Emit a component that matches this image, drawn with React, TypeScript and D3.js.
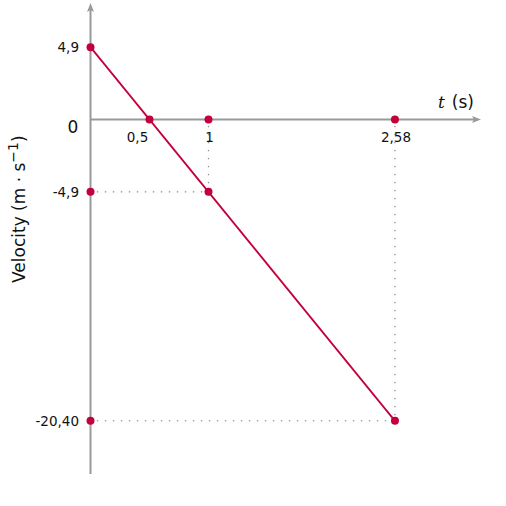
import React from "react";
import * as d3 from "d3";

const lineT = [0, 2.58];
const lineV = [4.9, -20.4];
const pointsT = [0, 0.5, 1, 1, 2.58, 2.58, 0, 0];
const pointsV = [4.9, 0, 0, -4.9, 0, -20.4, -4.9, -20.4];
const xTickValues = [0.5, 1, 2.58];
const xTickLabels = ["0,5", "1", "2,58"];
const yTickValues = [4.9, -4.9, -20.4];
const yTickLabels = ["4,9", "-4,9", "-20,40"];
const guideT = [1, 2.58];
const guideV = [-4.9, -20.4];

const RED = "#c4003c";
const AXIS = "#999999";
const FONT = "DejaVu Sans, sans-serif";

export default function App() {
  const x = d3.scaleLinear().domain([0, 1]).range([90.5, 208.5]);
  const y = d3.scaleLinear().domain([0, 10]).range([119.5, -28.2]);
  const line = d3
    .line<number>()
    .x((_, i) => x(lineT[i]))
    .y((_, i) => y(lineV[i]));

  return (
    <svg width={506} height={506} style={{ position: "absolute", left: 0, top: 0 }}>
      <rect width={506} height={506} fill="white" />
      {/* guides */}
      {guideT.map((t, i) => (
        <g key={"g" + i} stroke={AXIS} strokeWidth={1.6} strokeDasharray="0.1 7.9" strokeLinecap="round">
          <line x1={x(0) + 7} x2={x(t)} y1={y(guideV[i])} y2={y(guideV[i])} />
          <line x1={x(t)} x2={x(t)} y1={y(0) + 7} y2={y(guideV[i])} />
        </g>
      ))}
      {/* axes */}
      <line x1={x(0)} x2={475} y1={y(0)} y2={y(0)} stroke={AXIS} strokeWidth={2} />
      <path d={`M481,${y(0)} L472,${y(0) - 3.5} L474,${y(0)} L472,${y(0) + 3.5} Z`} fill={AXIS} />
      <line x1={x(0)} x2={x(0)} y1={474} y2={10} stroke={AXIS} strokeWidth={2} />
      <path d={`M${x(0)},3 L${x(0) - 3.5},12 L${x(0)},10 L${x(0) + 3.5},12 Z`} fill={AXIS} />
      {/* data line */}
      <path d={line(lineT) || ""} fill="none" stroke={RED} strokeWidth={1.8} />
      {pointsT.map((t, i) => (
        <circle key={"p" + i} cx={x(t)} cy={y(pointsV[i])} r={4} fill={RED} />
      ))}
      {/* tick labels */}
      {xTickValues.map((t, i) => (
        <text
          key={"xt" + i}
          x={x(t) + (t === 0.5 ? -12 : 1)}
          y={y(0) + 22}
          textAnchor="middle"
          fontFamily={FONT}
          fontSize={13.5}
          fill="#111"
        >
          {xTickLabels[i]}
        </text>
      ))}
      {yTickValues.map((v, i) => (
        <text
          key={"yt" + i}
          x={79}
          y={y(v) + 5}
          textAnchor="end"
          fontFamily={FONT}
          fontSize={13.5}
          fill="#111"
        >
          {yTickLabels[i]}
        </text>
      ))}
      <text x={73} y={y(0) + 13} textAnchor="middle" fontFamily={FONT} fontSize={17} fill="#111">
        0
      </text>
      {/* axis titles */}
      <text x={438} y={108} fontFamily={FONT} fontSize={17} fill="#111">
        <tspan fontFamily="DejaVu Serif, serif" fontStyle="italic">t</tspan>
        <tspan dx={7}>(s)</tspan>
      </text>
      <text
        transform={`translate(25,283) rotate(-90)`}
        textAnchor="start"
        fontFamily={FONT}
        fontSize={17}
        fill="#111"
      >
        Velocity (m · s
        <tspan fontSize={14} dy={-7}>−1</tspan>
        <tspan dy={7}>)</tspan>
      </text>
    </svg>
  );
}
